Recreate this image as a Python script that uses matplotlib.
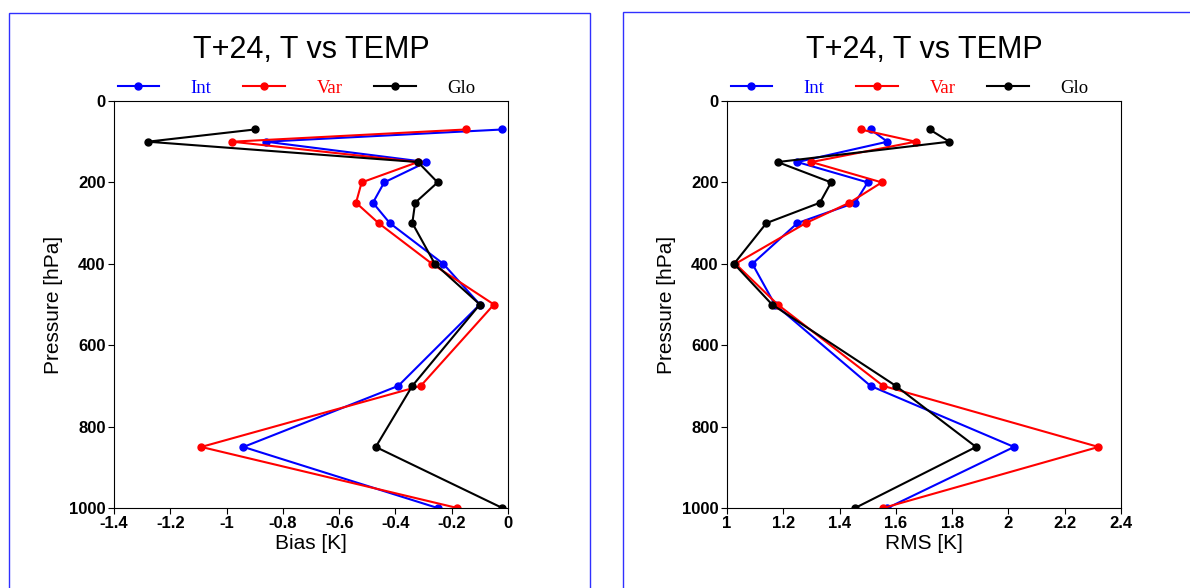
import matplotlib.pyplot as plt
from matplotlib.patches import Rectangle
from matplotlib.ticker import FuncFormatter

# pressure levels (hPa)
levels = [70, 100, 150, 200, 250, 300, 400, 500, 700, 850, 1000]

# bias [K]
bias_int = [-0.02, -0.86, -0.29, -0.44, -0.48, -0.42, -0.23, -0.10, -0.39, -0.94, -0.25]
bias_var = [-0.15, -0.98, -0.32, -0.52, -0.54, -0.46, -0.27, -0.05, -0.31, -1.09, -0.18]
bias_glo = [-0.90, -1.28, -0.32, -0.25, -0.33, -0.34, -0.26, -0.10, -0.34, -0.47, -0.02]

# rms [K]
rms_int = [1.51, 1.57, 1.25, 1.50, 1.455, 1.25, 1.09, 1.17, 1.51, 2.02, 1.57]
rms_var = [1.475, 1.67, 1.30, 1.55, 1.435, 1.28, 1.03, 1.18, 1.555, 2.32, 1.555]
rms_glo = [1.72, 1.79, 1.18, 1.37, 1.33, 1.14, 1.025, 1.16, 1.60, 1.885, 1.455]

names = ['Int', 'Var', 'Glo']
colors = ['blue', 'red', 'black']

plt.rcParams['font.family'] = ['Liberation Sans', 'DejaVu Sans']

fig = plt.figure(figsize=(11.9, 5.88), dpi=100)

# panel frames
fig.patches.append(Rectangle((9 / 1190, -0.01), 581 / 1190, 1 - 13 / 588 + 0.01,
                             transform=fig.transFigure, fill=False,
                             edgecolor='#3030ff', lw=1))
fig.patches.append(Rectangle((623 / 1190, -0.01), 600 / 1190, 1 - 12 / 588 + 0.01,
                             transform=fig.transFigure, fill=False,
                             edgecolor='#3030ff', lw=1))


def fmt(v, pos):
    s = '%.1f' % v
    if s.endswith('.0'):
        s = s[:-2]
    if s == '-0':
        s = '0'
    return s


def panel(left, series, xlabel, xlim):
    ax = fig.add_axes([left, 80 / 588, 394 / 1190, 407 / 588])
    handles = []
    for vals, name, c in zip(series, names, colors):
        h, = ax.plot(vals, levels, '-o', color=c, lw=1.5, ms=5, label=name)
        handles.append(h)
    ax.set_xlim(*xlim)
    ax.set_ylim(1000, 0)
    ax.set_xticks([xlim[0] + 0.2 * i for i in range(8)])
    ax.set_yticks(range(0, 1001, 200))
    ax.xaxis.set_major_formatter(FuncFormatter(fmt))
    ax.tick_params(direction='out', length=4, labelsize=12, pad=2)
    for lab in ax.get_xticklabels() + ax.get_yticklabels():
        lab.set_fontweight('bold')
    ax.set_xlabel(xlabel, fontsize=15, labelpad=2)
    ax.set_ylabel('Pressure [hPa]', fontsize=15, labelpad=4)
    ax.set_title('T+24, T vs TEMP', fontsize=22, pad=31)
    leg = ax.legend(handles=handles, loc='lower left', bbox_to_anchor=(-0.01, 0.992),
                    ncol=3, frameon=False, handlelength=2.2, handletextpad=1.7,
                    columnspacing=1.7, borderaxespad=0,
                    prop={'family': 'Liberation Serif', 'size': 13.5})
    for t, c in zip(leg.get_texts(), colors):
        t.set_color(c)
    return ax


panel(114 / 1190, [bias_int, bias_var, bias_glo], 'Bias [K]', (-1.4, 0))
panel(727 / 1190, [rms_int, rms_var, rms_glo], 'RMS [K]', (1.0, 2.4))

plt.savefig('out.png', dpi=100)
